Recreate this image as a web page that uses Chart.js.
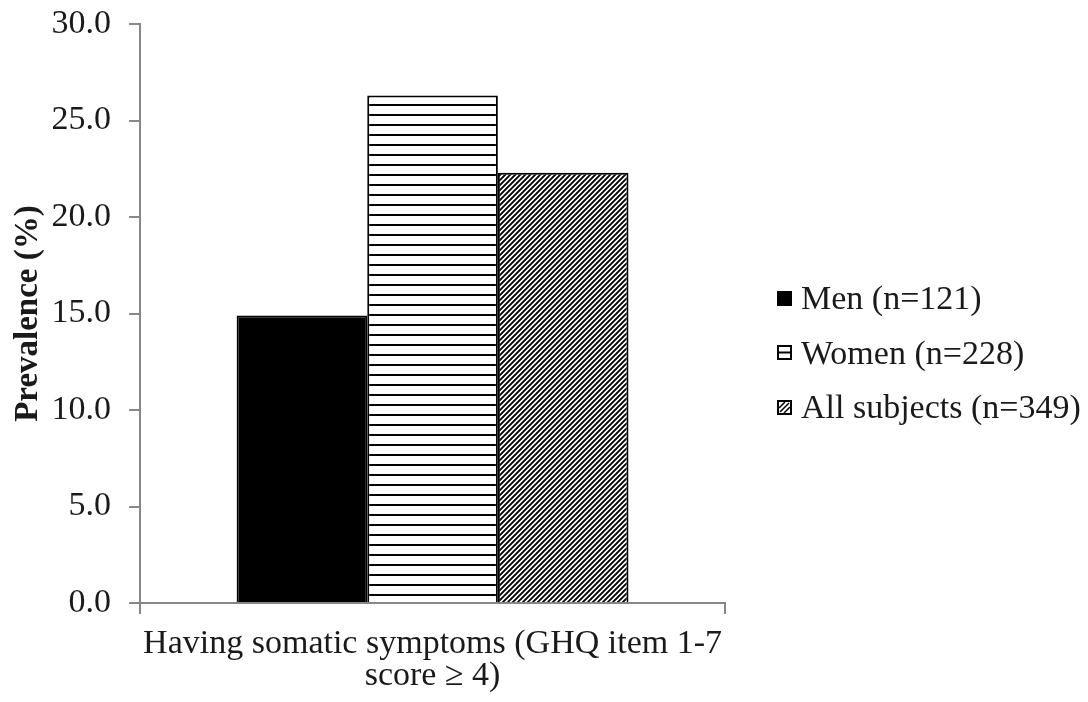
<!DOCTYPE html>
<html>
<head>
<meta charset="utf-8">
<script src="https://cdn.jsdelivr.net/npm/chart.js@4"></script>
<style>
  html, body { margin: 0; padding: 0; background: #fff; }
  #wrap { position: relative; width: 1088px; height: 702px; }
  #legend { position: absolute; left: 777px; top: 271px; font-family: 'Liberation Serif', serif; font-size: 34px; color: #1a1a1a; }
  #legend .row { height: 54.5px; line-height: 54.5px; white-space: nowrap; display: flex; align-items: center; }
  #legend canvas { margin-right: 9px; }
</style>
</head>
<body>
<div id="wrap">
  <canvas id="myChart" width="1088" height="702"></canvas>
  <div id="legend"></div>
</div>
<script>
const categories = [['Having somatic symptoms (GHQ item 1-7', 'score \u2265 4)']];
const seriesNames = ['Men (n=121)', 'Women (n=228)', 'All subjects (n=349)'];
const menValues = [14.9];
const womenValues = [26.3];
const allValues = [22.3];
const yMin = 0, yMax = 30, yStep = 5;

document.addEventListener("DOMContentLoaded", function () {
    const FONT = 'Liberation Serif';

    // horizontal lines pattern (women)
    function hLines() {
        const c = document.createElement('canvas');
        c.width = 10; c.height = 10;
        const g = c.getContext('2d');
        g.fillStyle = '#fff'; g.fillRect(0, 0, 10, 10);
        g.fillStyle = '#000'; g.fillRect(0, 4, 10, 2);
        return g.createPattern(c, 'repeat');
    }
    // diagonal hatch pattern (all subjects)
    function diag() {
        const s = 5;
        const c = document.createElement('canvas');
        c.width = s; c.height = s;
        const g = c.getContext('2d');
        g.fillStyle = '#fff'; g.fillRect(0, 0, s, s);
        g.strokeStyle = '#000'; g.lineWidth = 1.9;
        g.beginPath();
        g.moveTo(-1, s + 1); g.lineTo(s + 1, -1);
        g.moveTo(-1, 1); g.lineTo(1, -1);
        g.moveTo(s - 1, s + 1); g.lineTo(s + 1, s - 1);
        g.stroke();
        return g.createPattern(c, 'repeat');
    }

    // small legend swatches
    function swatch(kind) {
        const c = document.createElement('canvas');
        c.width = 15; c.height = 15;
        const g = c.getContext('2d');
        if (kind === 0) {
            g.fillStyle = '#000'; g.fillRect(0, 0, 15, 15);
        } else {
            g.fillStyle = '#fff'; g.fillRect(0, 0, 15, 15);
            g.strokeStyle = '#000'; g.lineWidth = 2;
            g.strokeRect(1, 1, 13, 13);
            g.beginPath();
            if (kind === 1) { g.moveTo(1, 7.5); g.lineTo(14, 7.5); }
            else { g.lineWidth = 1.5; g.moveTo(3, 12); g.lineTo(12, 3); g.moveTo(2, 8); g.lineTo(8, 2); g.moveTo(7, 13); g.lineTo(13, 7); }
            g.stroke();
        }
        return c;
    }

    const fills = ['#000', hLines(), diag()];

    const data = {
        labels: categories,
        datasets: [
            { label: seriesNames[0], data: menValues, backgroundColor: fills[0], borderColor: '#000', borderWidth: 2 },
            { label: seriesNames[1], data: womenValues, backgroundColor: fills[1], borderColor: '#000', borderWidth: 2 },
            { label: seriesNames[2], data: allValues, backgroundColor: fills[2], borderColor: '#000', borderWidth: 2 }
        ]
    };

    const config = {
        type: 'bar',
        data: data,
        options: {
            responsive: false,
            animation: false,
            layout: { padding: { left: 9, right: 363, top: 24, bottom: 0 } },
            datasets: { bar: { categoryPercentage: 0.67, barPercentage: 1.0 } },
            scales: {
                x: {
                    afterFit: s => { s.height -= 4; },
                    grid: { display: true, drawOnChartArea: false, drawTicks: true, tickLength: 11, color: '#878787', lineWidth: 2 },
                    border: { color: '#878787', width: 2 },
                    ticks: { color: '#1a1a1a', font: { family: FONT, size: 34, lineHeight: 0.94 }, padding: 14, maxRotation: 0 }
                },
                y: {
                    min: yMin, max: yMax,
                    // pull the axis in: less empty room between title and labels
                    afterFit: s => { s.paddingTop = 0; s.width -= 19; },
                    grid: { display: true, drawOnChartArea: false, drawTicks: true, tickLength: 11, color: '#878787', lineWidth: 2 },
                    border: { color: '#878787', width: 2 },
                    ticks: {
                        stepSize: yStep, color: '#1a1a1a', padding: 18,
                        font: { family: FONT, size: 34, lineHeight: 1.0 },
                        callback: v => v.toFixed(1)
                    },
                    title: {
                        display: true, text: 'Prevalence (%)', color: '#1a1a1a',
                        font: { family: FONT, size: 33, weight: 'bold' }, padding: { top: 0, bottom: 4 }
                    }
                }
            },
            plugins: {
                legend: { display: false },
                tooltip: { enabled: false }
            }
        }
    };

    const chart = new Chart(document.getElementById('myChart'), config);

    // html legend built from the chart's own legend items
    const box = document.getElementById('legend');
    Chart.defaults.plugins.legend.labels.generateLabels(chart).forEach(item => {
        const row = document.createElement('div');
        row.className = 'row';
        row.appendChild(swatch(item.datasetIndex));
        const t = document.createElement('span');
        t.textContent = item.text;
        row.appendChild(t);
        box.appendChild(row);
    });
});
</script>
</body>
</html>
